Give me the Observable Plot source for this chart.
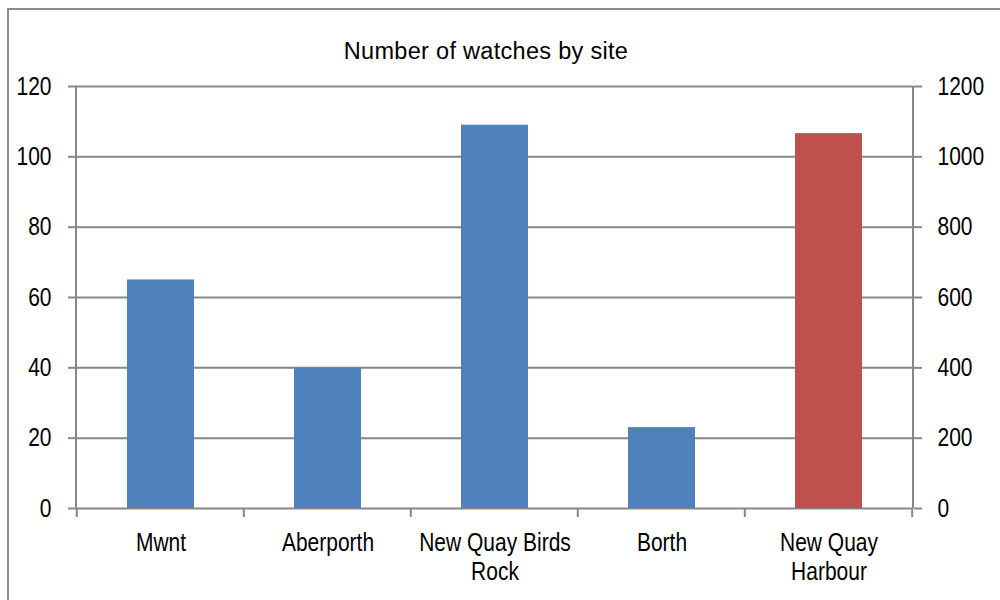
<!DOCTYPE html>
<html>
<head>
<meta charset="utf-8">
<script src="https://cdn.jsdelivr.net/npm/d3@7"></script>
<script src="https://cdn.jsdelivr.net/npm/@observablehq/plot@0.6"></script>
<style>
  html, body { margin: 0; padding: 0; background: #fff; overflow: hidden; }
  #wrap { position: relative; width: 1000px; height: 600px; }
  #border { position: absolute; left: 7px; top: 8px; width: 1020px; height: 620px; border: 2px solid #8c8c8c; box-sizing: border-box; pointer-events: none; }
  #title { position: absolute; left: 0; top: 0; width: 972px; height: 70px; box-sizing: border-box; padding-top: 39px;
           font-family: "Liberation Sans", Arial, sans-serif; font-size: 23.5px; line-height: 24px; letter-spacing: 0.3px;
           text-align: center; color: #000; }
  #chart { position: absolute; left: 0; top: 70px; }
</style>
</head>
<body>
<div id="wrap">
  <div id="title">Number of watches by site</div>
  <div id="chart"></div>
  <div id="border"></div>
</div>
<script>
// ---- data ----
const sites = ["Mwnt", "Aberporth", "New Quay Birds Rock", "Borth", "New Quay Harbour"];
const siteLabels = ["Mwnt", "Aberporth", "New Quay Birds\nRock", "Borth", "New Quay\nHarbour"];
const watches = [65, 40, 109, 23, 1066];
const axisSide = ["left", "left", "left", "left", "right"];
const leftTicks = [0, 20, 40, 60, 80, 100, 120];
const rightTicks = [0, 200, 400, 600, 800, 1000, 1200];
const sideColors = {left: "#4F81BD", right: "#C0504D"};

const ratio = rightTicks[rightTicks.length - 1] / leftTicks[leftTicks.length - 1];
const table = sites.map((s, i) => ({
  site: s,
  value: watches[i],
  side: axisSide[i],
  yLeft: axisSide[i] === "right" ? watches[i] / ratio : watches[i]
}));
const labelOf = new Map(sites.map((s, i) => [s, siteLabels[i]]));

const gridColor = "#878787";
const font = "'Liberation Sans', Arial, sans-serif";

function axisFrame(index, scales, values, dims) {
  const {width, height, marginLeft, marginRight, marginTop, marginBottom} = dims;
  const x0 = marginLeft, x1 = width - marginRight, yb = height - marginBottom;
  const step = (x1 - x0) / sites.length;
  const bw = scales.x.bandwidth();
  const g = d3.create("svg:g").attr("stroke", gridColor).attr("stroke-width", 2).attr("fill", "none");
  g.append("line").attr("x1", x0).attr("x2", x0).attr("y1", marginTop).attr("y2", yb);
  g.append("line").attr("x1", x1).attr("x2", x1).attr("y1", marginTop).attr("y2", yb);
  const bounds = sites.map(s => scales.x(s) + bw / 2 - step / 2);
  bounds.push(scales.x(sites[sites.length - 1]) + bw / 2 + step / 2);
  for (const bx of bounds) {
    g.append("line").attr("x1", bx).attr("x2", bx).attr("y1", yb).attr("y2", yb + 9);
  }
  return g.node();
}

const chart = Plot.plot({
  width: 1000,
  height: 530,
  marginLeft: 76,
  marginRight: 87,
  marginTop: 16,
  marginBottom: 92,
  style: {fontFamily: font, fontSize: "25px", color: "#000", background: "transparent"},
  x: {domain: sites, paddingInner: 0.6, paddingOuter: 0.3, align: 0.5},
  y: {domain: [leftTicks[0], leftTicks[leftTicks.length - 1]]},
  marks: [
    Plot.gridY(leftTicks, {stroke: gridColor, strokeOpacity: 1, strokeWidth: 2}),
    Plot.barY(table, {x: "site", y: "yLeft", fill: d => sideColors[d.side]}),
    axisFrame,
    Plot.axisY({anchor: "left", ticks: leftTicks, tickSize: 8, tickPadding: 17, stroke: gridColor, strokeWidth: 2,
                fontSize: 25, label: null, fill: "#000"}),
    Plot.axisY({anchor: "right", ticks: leftTicks, tickFormat: d => String(d * ratio), tickSize: 8, tickPadding: 16,
                stroke: gridColor, strokeWidth: 2, fontSize: 25, label: null, fill: "#000"}),
    Plot.axisX({anchor: "bottom", tickSize: 0, tickPadding: 22, tickFormat: d => labelOf.get(d), fontSize: 25,
                lineHeight: 1.15, label: null, fill: "#000"})
  ]
});
// narrow (condensed) look of the original's axis font
chart.querySelectorAll("text").forEach(t => {
  const tr = t.getAttribute("transform") || "";
  t.setAttribute("transform", (tr + " scale(0.84,1)").trim());
});
document.getElementById("chart").appendChild(chart);
</script>
</body>
</html>
